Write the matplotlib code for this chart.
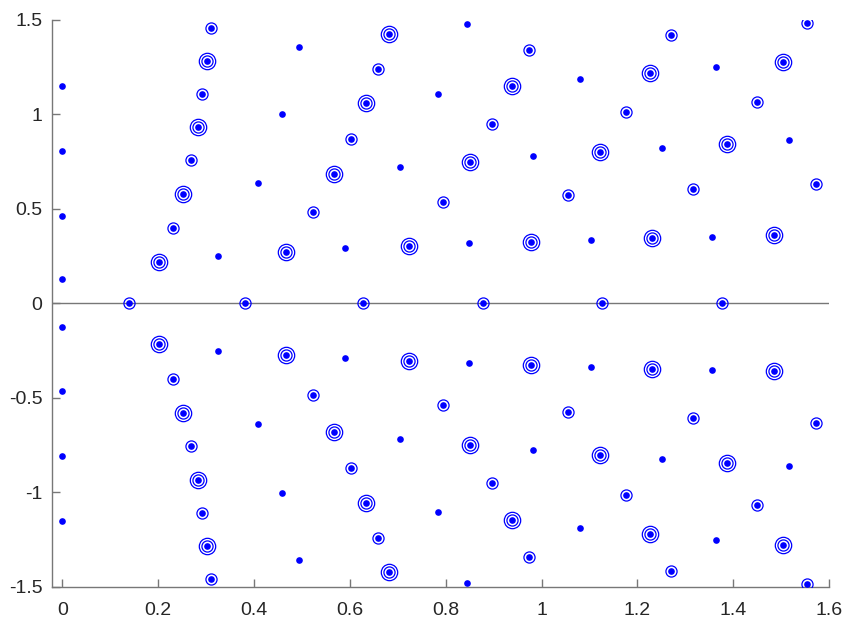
import numpy as np
import matplotlib
matplotlib.use("Agg")
import matplotlib.pyplot as plt

# upper half points (lower half is the mirror image)
dot_x = [0, 0, 0, 0, 0.3254, 0.4076, 0.4577, 0.4944, 0.5903, 0.7051, 0.7837,
         0.8442, 0.8483, 0.9825, 1.0799, 1.1022, 1.2516, 1.3629, 1.3553, 1.5152]
dot_y = [1.152, 0.806, 0.462, 0.127, 0.2504, 0.6384, 1.0021, 1.3584, 0.2912,
         0.720, 1.1064, 1.4802, 0.3176, 0.7782, 1.1874, 0.3367, 0.8237, 1.2509,
         0.3526, 0.8629]

ring_x = [0.2303, 0.2685, 0.2920, 0.3096, 0.5236, 0.6022, 0.6585, 0.7935, 0.8970,
          0.9741, 1.0555, 1.1765, 1.2697, 1.3156, 1.4485, 1.5722, 1.554]
ring_y = [0.3986, 0.757, 1.108, 1.457, 0.4833, 0.8714, 1.2404, 0.5363, 0.9508,
          1.341, 0.5749, 1.0143, 1.4187, 0.6051, 1.0656, 0.6316, 1.4855]

# single rings sitting on the real axis
axis_x = [0.1391, 0.3805, 0.6272, 0.8769, 1.1257, 1.3755]

dbl_x = [0.2017, 0.2518, 0.2824, 0.3018, 0.4660, 0.5661, 0.6329, 0.6815, 0.7238,
         0.8504, 0.9380, 0.9783, 1.1210, 1.2253, 1.2307, 1.3859, 1.4839, 1.5033]
dbl_y = [0.2170, 0.5802, 0.9333, 1.2843, 0.2732, 0.6829, 1.0588, 1.424, 0.3049,
         0.7496, 1.1488, 0.3261, 0.8010, 1.2208, 0.3457, 0.8433, 0.360, 1.279]

x_ticks = [0, 0.2, 0.4, 0.6, 0.8, 1, 1.2, 1.4, 1.6]
x_labels = ["0", "0.2", "0.4", "0.6", "0.8", "1", "1.2", "1.4", "1.6"]
y_ticks = [-1.5, -1, -0.5, 0, 0.5, 1, 1.5]
y_labels = ["-1.5", "-1", "-0.5", "0", "0.5", "1", "1.5"]

plt.rcParams['font.family'] = ['Liberation Sans', 'DejaVu Sans']
plt.rcParams['font.size'] = 14

fig = plt.figure(figsize=(8.5, 6.34), dpi=100)
ax = fig.add_axes([0.0615, 0.0746, 0.914, 0.894])

blue = "#0000ff"
gray = "#777777"

ax.axhline(0, color=gray, lw=1.0, zorder=1)


def both(x, y):
    x = np.asarray(x, float)
    y = np.asarray(y, float)
    return np.concatenate([x, x]), np.concatenate([y, -y])


# double rings
dx, dy = both(dbl_x, dbl_y)
ax.plot(dx, dy, "o", ms=11.8, mfc="none", mec=blue, mew=0.9, zorder=3)
ax.plot(dx, dy, "o", ms=8.0, mfc="none", mec=blue, mew=0.9, zorder=3)
ax.plot(dx, dy, "o", ms=4.8, color=blue, mew=0, zorder=4)

# single rings
rx, ry = both(ring_x, ring_y)
rx = np.concatenate([rx, axis_x])
ry = np.concatenate([ry, np.zeros(len(axis_x))])
ax.plot(rx, ry, "o", ms=8.0, mfc="none", mec=blue, mew=0.9, zorder=3)
ax.plot(rx, ry, "o", ms=4.8, color=blue, mew=0, zorder=4)

# plain dots
px, py = both(dot_x, dot_y)
ax.plot(px, py, "o", ms=4.8, color=blue, mew=0, zorder=4)

ax.set_xlim(-0.0209, 1.6)
ax.set_ylim(-1.5, 1.5)
ax.set_xticks(x_ticks)
ax.set_xticklabels(x_labels)
ax.set_yticks(y_ticks)
ax.set_yticklabels(y_labels)

for s in ["top", "right"]:
    ax.spines[s].set_visible(False)
for s in ["left", "bottom"]:
    ax.spines[s].set_color(gray)
    ax.spines[s].set_linewidth(1.0)
ax.tick_params(direction="in", length=6, width=1.0, color=gray,
               labelcolor="#262626", labelsize=14)
ax.tick_params(axis="x", pad=11)
ax.tick_params(axis="y", pad=7)

fig.savefig("out.png", dpi=100)
